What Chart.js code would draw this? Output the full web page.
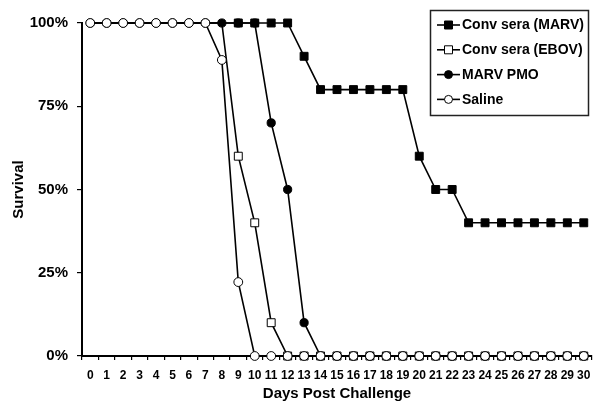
<!DOCTYPE html>
<html>
<head>
<meta charset="utf-8">
<script src="https://cdn.jsdelivr.net/npm/chart.js@4.4.1/dist/chart.umd.min.js"></script>
<style>
  html, body { margin: 0; padding: 0; background: #fff; }
  #wrap { width: 600px; height: 410px; position: relative; }
</style>
</head>
<body>
<div id="wrap"><canvas id="c" width="600" height="410"></canvas></div>
<script>
// ---- data ----
const days = ['0','1','2','3','4','5','6','7','8','9','10','11','12','13','14','15','16','17','18','19','20','21','22','23','24','25','26','27','28','29','30'];
const convSeraMARV = [100,100,100,100,100,100,100,100,100,100,100,100,100,90,80,80,80,80,80,80,60,50,50,40,40,40,40,40,40,40,40];
const convSeraEBOV = [100,100,100,100,100,100,100,100,100,60,40,10,0,0,0,0,0,0,0,0,0,0,0,0,0,0,0,0,0,0,0];
const marvPMO      = [100,100,100,100,100,100,100,100,100,100,100,70,50,10,0,0,0,0,0,0,0,0,0,0,0,0,0,0,0,0,0];
const saline       = [100,100,100,100,100,100,100,100,88.9,22.2,0,0,0,0,0,0,0,0,0,0,0,0,0,0,0,0,0,0,0,0,0];
const yTicks = [0, 25, 50, 75, 100];
const seriesNames = ['Conv sera (MARV)', 'Conv sera (EBOV)', 'MARV PMO', 'Saline'];

const FONT = '"Liberation Sans", Arial, sans-serif';
const SQ_R = 5.6, CI_R = 4.1;

const styles = [
  { style: 'rect', fill: '#000' },
  { style: 'rect', fill: '#fff' },
  { style: 'circle', fill: '#000' },
  { style: 'circle', fill: '#fff' }
];

const legendPlugin = {
  id: 'boxLegend',
  afterDraw(chart) {
    const ctx = chart.ctx;
    ctx.save();
    ctx.lineWidth = 1.5;
    ctx.strokeStyle = '#222';
    ctx.strokeRect(430.5, 10.5, 158, 105);
    ctx.font = 'bold 14px ' + FONT;
    ctx.textBaseline = 'middle';
    ctx.textAlign = 'left';
    seriesNames.forEach((name, i) => {
      const y = 25 + i * 24.8;
      ctx.strokeStyle = '#000';
      ctx.lineWidth = 1.6;
      ctx.beginPath();
      ctx.moveTo(437, y);
      ctx.lineTo(460, y);
      ctx.stroke();
      ctx.lineWidth = 1;
      ctx.fillStyle = styles[i].fill;
      ctx.beginPath();
      if (styles[i].style === 'rect') {
        ctx.rect(444.5, y - 4, 8, 8);
      } else {
        ctx.arc(448.5, y, 4, 0, Math.PI * 2);
      }
      ctx.fill();
      ctx.stroke();
      ctx.fillStyle = '#000';
      ctx.fillText(name, 462, y + 0.5);
    });
    ctx.restore();
  }
};

const hideEarly = (r) => (c) => (c.dataIndex <= 8 ? 0 : r);

new Chart(document.getElementById('c'), {
  type: 'line',
  data: {
    labels: days,
    datasets: [
      { label: seriesNames[0], data: convSeraMARV, order: 1, pointStyle: 'rect', pointRadius: hideEarly(SQ_R),
        backgroundColor: '#000', pointBackgroundColor: '#000' },
      { label: seriesNames[1], data: convSeraEBOV, order: 3, pointStyle: 'rect', pointRadius: hideEarly(SQ_R),
        backgroundColor: '#fff', pointBackgroundColor: '#fff' },
      { label: seriesNames[2], data: marvPMO, order: 2, pointStyle: 'circle', pointRadius: CI_R,
        backgroundColor: '#000', pointBackgroundColor: '#000' },
      { label: seriesNames[3], data: saline, order: 0, pointStyle: 'circle', pointRadius: CI_R + 0.3,
        backgroundColor: '#fff', pointBackgroundColor: '#fff' }
    ].map(d => Object.assign({
      borderColor: '#000', borderWidth: 1.6, pointBorderColor: '#000', pointBorderWidth: 1,
      tension: 0, fill: false, clip: false, pointHoverRadius: 0
    }, d))
  },
  options: {
    responsive: false,
    animation: false,
    events: [],
    layout: { padding: { left: 0, right: 8, top: 23, bottom: 0 } },
    plugins: { legend: { display: false }, tooltip: { enabled: false } },
    scales: {
      x: {
        type: 'category',
        offset: true,
        afterFit: (s) => { s.height = 54; },
        grid: { display: true, offset: true, drawOnChartArea: false, drawTicks: true, tickLength: 4, color: '#000', lineWidth: 1.2 },
        border: { display: true, color: '#000', width: 2 },
        ticks: { autoSkip: false, maxRotation: 0, minRotation: 0, padding: 8, color: '#000', font: { family: FONT, size: 12, weight: 'bold' } },
        title: { display: true, text: 'Days Post Challenge', color: '#000', font: { family: FONT, size: 15, weight: 'bold' }, padding: { top: 0, bottom: 7 } }
      },
      y: {
        min: 0, max: 100,
        afterFit: (s) => { s.width = 82; },
        afterBuildTicks: (s) => { s.ticks = yTicks.map(v => ({ value: v })); },
        grid: { display: true, drawOnChartArea: false, drawTicks: true, tickLength: 5, color: '#000', lineWidth: 1.2 },
        border: { display: true, color: '#000', width: 2 },
        ticks: { padding: 9, color: '#000', callback: (v) => v + '%', font: { family: FONT, size: 15, weight: 'bold' } },
        title: { display: true, text: 'Survival', color: '#000', font: { family: FONT, size: 15, weight: 'bold' }, padding: { top: 10, bottom: 0 } }
      }
    }
  },
  plugins: [legendPlugin]
});
</script>
</body>
</html>
